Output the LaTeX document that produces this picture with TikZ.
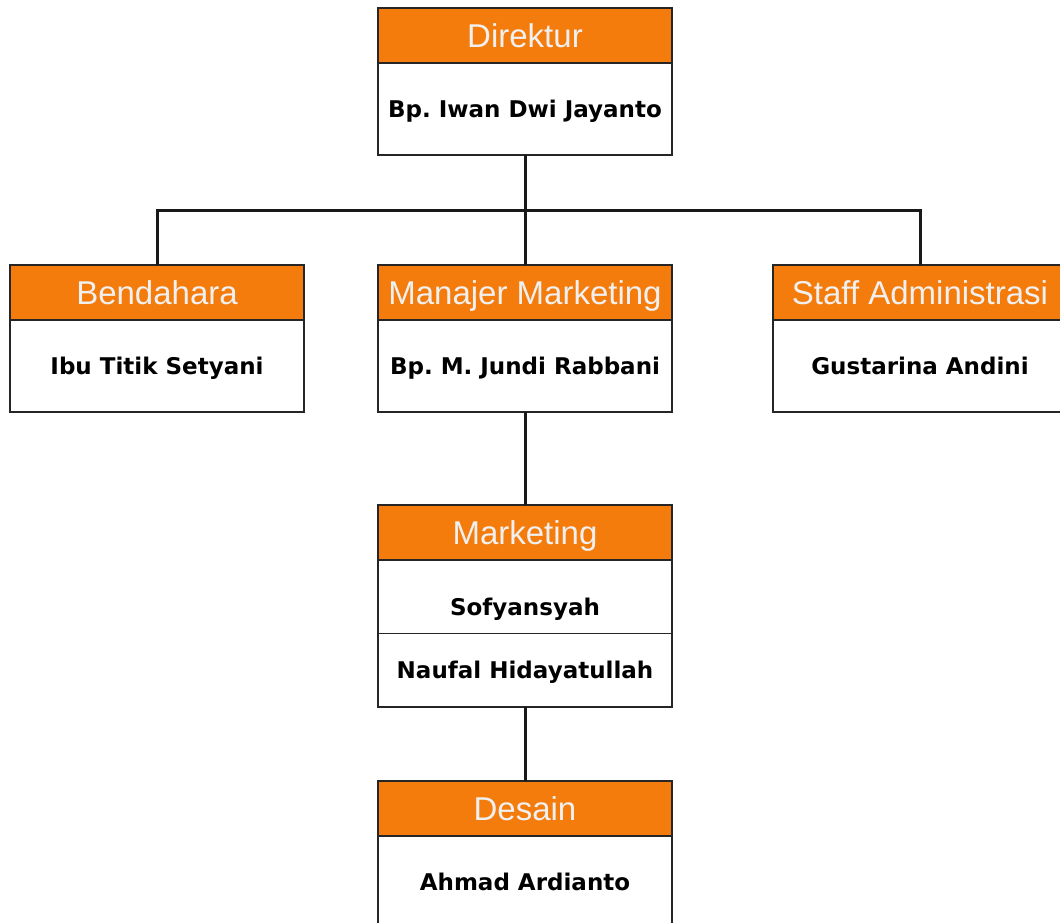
\documentclass[tikz,border=0pt]{standalone}
\usepackage{fontspec}
\setmainfont{Liberation Sans}
\newfontfamily\namefont{DejaVu Sans}
\usepackage{tikz}
\usetikzlibrary{positioning}
\definecolor{jabatan}{RGB}{244,124,12}
\definecolor{jabatanText}{RGB}{240,240,240}
\frenchspacing

\begin{document}
\begin{tikzpicture}[
  x=1pt, y=1pt,
  node distance=0pt,
  head/.style={
    rectangle, draw=black!85, line width=1.5pt,
    fill=jabatan, text=jabatanText,
    minimum width=294pt, minimum height=55pt,
    inner sep=0pt, outer sep=0pt,
    text height=23.6pt, text depth=0pt,
    font=\fontsize{33}{37}\selectfont
  },
  namebox/.style={
    rectangle, draw=black!85, line width=1.5pt, fill=white,
    minimum width=294pt, minimum height=92pt,
    inner sep=0pt, outer sep=0pt,
    text height=16.8pt, text depth=0pt,
    font=\namefont\bfseries\fontsize{23}{27}\selectfont
  },
  rowbox/.style={namebox, minimum height=73.5pt},
  lowrow/.style={rowbox, text height=37pt},
  conn/.style={line width=3pt, draw=black!90}
]
  \useasboundingbox (0,0) rectangle (1060,-922);

  \node[head] (direktur) at (525,-35.5) {Direktur};
  \node[namebox, below=of direktur] (direkturName) {Bp. Iwan Dwi Jayanto};

  \node[head] (bendahara) at (157,-292.5) {Bendahara};
  \node[namebox, below=of bendahara] (bendaharaName) {Ibu Titik Setyani};
  \node[head] (manajer) at (525,-292.5) {Manajer Marketing};
  \node[namebox, below=of manajer] (manajerName) {Bp. M. Jundi Rabbani};
  \node[head] (staff) at (920,-292.5) {Staff Administrasi};
  \node[namebox, below=of staff] (staffName) {Gustarina Andini};

  \node[head] (marketing) at (525,-532.5) {Marketing};
  \node[lowrow, below=of marketing] (sofyan) {Sofyansyah};
  \node[rowbox, below=of sofyan] (naufal) {Naufal Hidayatullah};

  \node[head] (desain) at (525,-808.5) {Desain};
  \node[namebox, below=of desain] (desainName) {Ahmad Ardianto};

  \draw[conn] (direkturName.south) -- ++(0,-55) coordinate (bus);
  \draw[conn] (bendahara.north) |- (bus) -| (staff.north);
  \draw[conn] (bus) -- (manajer.north);
  \draw[conn] (manajerName.south) -- (marketing.north);
  \draw[conn] (naufal.south) -- (desain.north);
\end{tikzpicture}
\end{document}
